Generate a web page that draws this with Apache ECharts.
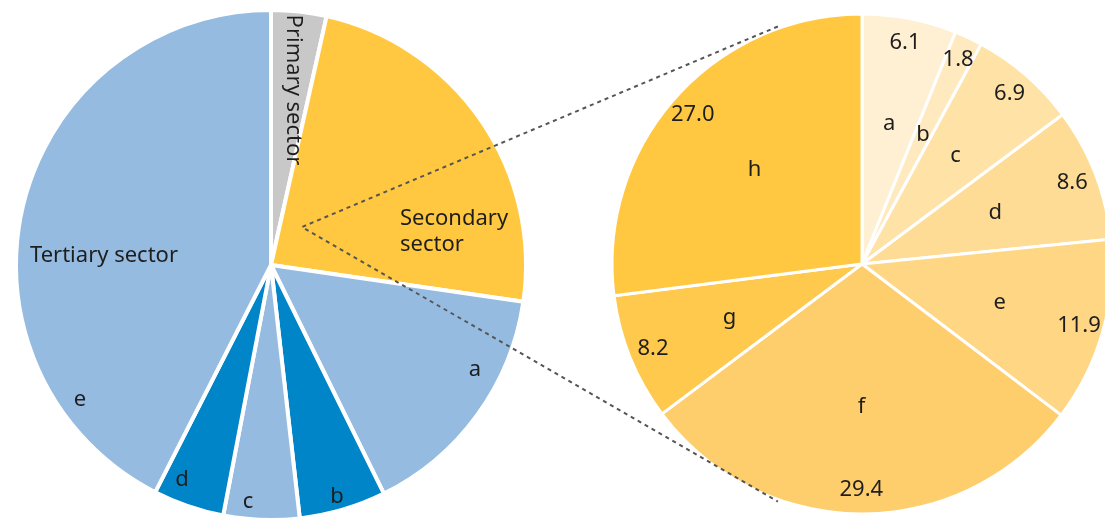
<!DOCTYPE html>
<html>
<head>
<meta charset="utf-8">
<script src="https://cdn.jsdelivr.net/npm/echarts@6/dist/echarts.min.js"></script>
<style>
html, body { margin: 0; padding: 0; background: #fff; }
#chart { width: 1105px; height: 520px; }
</style>
</head>
<body>
<div id="chart"></div>
<script>
// left pie: economy by sector (tertiary split into a-e)
var sectorNames = ['Primary sector', 'Secondary sector', 'a', 'b', 'c', 'd', 'e'];
var sectorValues = [3.5, 23.8, 15.4, 5.5, 4.8, 4.5, 42.5];
var sectorColors = ['#c8c8c8', '#ffc840', '#96bbe0', '#0085c8', '#96bbe0', '#0085c8', '#96bbe0'];

// right pie: breakdown of the secondary sector
var industryNames = ['a', 'b', 'c', 'd', 'e', 'f', 'g', 'h'];
var industryValues = [6.1, 1.8, 6.9, 8.6, 11.9, 29.4, 8.2, 27.0];
var industryColors = ['#fff0d3', '#ffe9be', '#ffe2a6', '#ffdc95', '#ffd684', '#ffce6c', '#fec94d', '#ffc840'];

var FONT = '"Noto Sans", sans-serif';
var TXT = '#1e1e1e';
var L = [271, 265], rL = 255;
var R = [862, 264], rR = 250;

function polar(c, deg, r) {
	var a = deg * Math.PI / 180;
	return [c[0] + r * Math.sin(a), c[1] - r * Math.cos(a)];
}

function pieData(names, values, colors) {
	var out = [];
	for (var i = 0; i < names.length; i++) {
		out.push({ name: names[i], value: values[i], itemStyle: { color: colors[i] } });
	}
	return out;
}

function labelRing(center, radius, data, fmt) {
	return {
		type: 'pie', center: center, radius: radius, silent: true,
		startAngle: 90, clockwise: true, z: 5,
		itemStyle: { color: 'transparent', borderWidth: 0 },
		emphasis: { disabled: true },
		label: { show: true, position: 'inside', formatter: fmt, color: TXT, fontFamily: FONT, fontSize: 22 },
		labelLine: { show: false },
		data: data.map(function (d) { return { name: d.name, value: d.value }; })
	};
}

function txt(text, x, y, opts) {
	opts = opts || {};
	return {
		type: 'text', x: x, y: y, z: 100, rotation: opts.rotation || 0,
		style: {
			text: text, x: 0, y: 0, fill: TXT, font: '22px ' + FONT,
			align: opts.align || 'center', verticalAlign: 'middle', lineHeight: 26
		}
	};
}

var chart = echarts.init(document.getElementById('chart'));
var leftData = pieData(sectorNames, sectorValues, sectorColors);
var rightData = pieData(industryNames, industryValues, industryColors);

var apex = [302, 227];
var upEnd = polar(R, -19.5, rR + 2);
var lowEnd = polar(R, 199.5, rR + 2);

var option = {
	animation: false,
	series: [
		{
			type: 'pie', center: L, radius: rL, startAngle: 90, clockwise: true,
			silent: true,
			itemStyle: { borderColor: '#fff', borderWidth: 4 },
			label: { show: false }, labelLine: { show: false },
			data: leftData
		},
		{
			type: 'pie', center: R, radius: rR, startAngle: 90, clockwise: true,
			silent: true,
			itemStyle: { borderColor: '#fff', borderWidth: 3 },
			label: { show: false }, labelLine: { show: false },
			data: rightData
		},
		labelRing(R, [90, 190], rightData, '{b}'),
		labelRing(R, [195, 250], rightData, function (p) { return p.value.toFixed(1); })
	],
	graphic: [
		{
			type: 'polyline', z: 90, silent: true,
			shape: { points: [upEnd, apex, lowEnd] },
			style: { stroke: '#555', lineWidth: 2, lineDash: [4, 4], fill: null }
		},
		txt('Primary sector', 293, 90, { rotation: -Math.PI / 2 }),
		txt('Secondary\nsector', 400, 232, { align: 'left' }),
		txt('Tertiary sector', 104, 256),
		txt('e', 80, 400),
		txt('a', 475, 370),
		txt('b', 337, 497),
		txt('c', 248, 502),
		txt('d', 182, 480)
	]
};
chart.setOption(option);
</script>
</body>
</html>
